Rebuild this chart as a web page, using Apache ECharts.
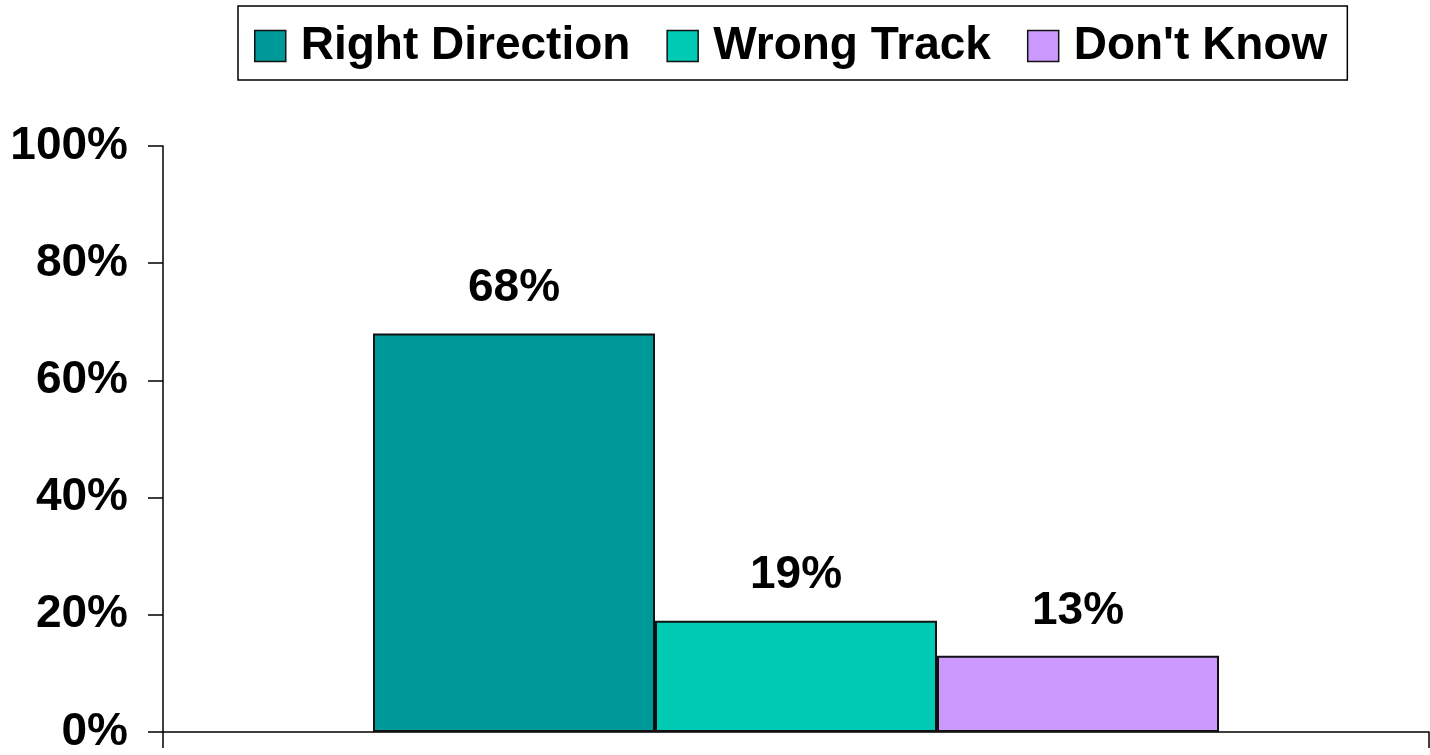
<!DOCTYPE html>
<html>
<head>
<meta charset="utf-8">
<script src="https://cdn.jsdelivr.net/npm/echarts@6/dist/echarts.min.js"></script>
<style>
  html, body { margin: 0; padding: 0; background: #fff; overflow: hidden; }
  #chart { width: 1430px; height: 755px; }
</style>
</head>
<body>
<div id="chart"></div>
<script>
const categories = ['']
const seriesNames = ['Right Direction', 'Wrong Track', "Don't Know"]
const rightDirection = [68]
const wrongTrack = [19]
const dontKnow = [13]
const colors = ['#009999', '#00C9B4', '#CC99FF']

const font = '"Liberation Sans", Arial, sans-serif'

function barSeries(name, data, color) {
  return {
    name: name,
    type: 'bar',
    data: data,
    barWidth: 282,
    barGap: '0%',
    itemStyle: { color: color, borderColor: '#111', borderWidth: 2 },
    label: {
      show: true,
      position: 'top',
      distance: 22,
      formatter: '{c}%',
      color: '#000',
      fontFamily: font,
      fontWeight: 'bold',
      fontSize: 46
    }
  }
}

const chart = echarts.init(document.getElementById('chart'))
chart.setOption({
  animation: false,
  backgroundColor: '#fff',
  legend: {
    top: 6,
    left: 238,
    padding: [17, 20, 11, 16],
    itemGap: 36,
    itemWidth: 31,
    itemHeight: 31,
    borderColor: '#000',
    borderWidth: 1.5,
    icon: 'rect',
    itemStyle: { borderColor: '#111', borderWidth: 1.5 },
    textStyle: {
      color: '#000',
      fontFamily: font,
      fontWeight: 'bold',
      fontSize: 46,
      lineHeight: 46,
      padding: [0, 0, 0, 10]
    },
    data: seriesNames
  },
  grid: { left: 163, right: 1, top: 146, bottom: 19 },
  xAxis: {
    type: 'category',
    data: categories,
    axisLine: { lineStyle: { color: '#000', width: 1.5 } },
    axisTick: { show: true, length: 16, lineStyle: { color: '#000', width: 1.5 } },
    axisLabel: { show: false }
  },
  yAxis: {
    type: 'value',
    min: 0,
    max: 100,
    interval: 20,
    splitLine: { show: false },
    axisLine: { show: true, lineStyle: { color: '#000', width: 1.5 } },
    axisTick: { show: true, length: 15, lineStyle: { color: '#000', width: 1.5 } },
    axisLabel: {
      formatter: '{value}%',
      margin: 35,
      color: '#000',
      fontFamily: font,
      fontWeight: 'bold',
      fontSize: 46
    }
  },
  series: [
    barSeries(seriesNames[0], rightDirection, colors[0]),
    barSeries(seriesNames[1], wrongTrack, colors[1]),
    barSeries(seriesNames[2], dontKnow, colors[2])
  ]
})
</script>
</body>
</html>
